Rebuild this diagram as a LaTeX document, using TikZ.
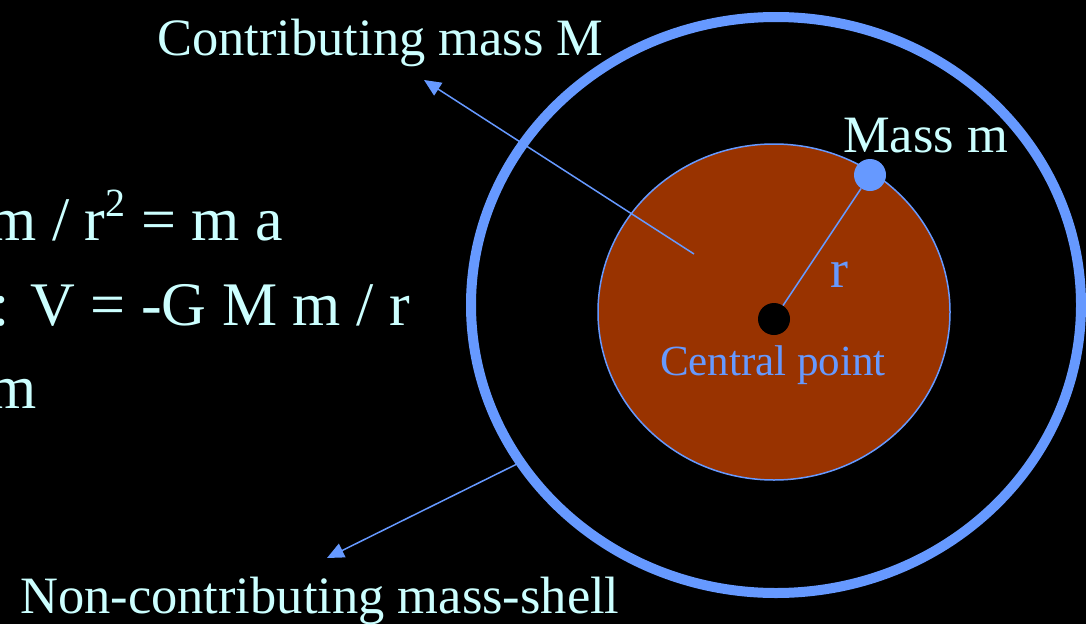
\documentclass[tikz,border=0pt]{standalone}
\usepackage{fontspec}
\setmainfont{Liberation Serif}
\usetikzlibrary{arrows.meta}
\definecolor{txt}{HTML}{CCFFFF}
\definecolor{blu}{HTML}{6699FF}
\definecolor{brn}{HTML}{993300}
\newcommand{\supsq}{\raisebox{24pt}{\fontsize{40}{40}\selectfont 2}}
\begin{document}
\begin{tikzpicture}[x=1pt,y=-1pt,
  lbl/.style={inner sep=0pt, text=txt, font=\fontsize{52.5}{60}\selectfont},
  big/.style={inner sep=0pt, text=txt, font=\fontsize{62}{70}\selectfont, anchor=base east},
  bluelbl/.style={inner sep=0pt, text=blu},
  ptr/.style={blu, line width=1.5pt, -{Triangle[length=17pt,width=15pt]}},
  dot/.style={circle, inner sep=0pt, minimum size=32pt}]
\fill[black] (0,0) rectangle (1086,624);
\useasboundingbox (0,0) rectangle (1086,624);
\clip (0,0) rectangle (1086,624);
% shells
\draw[blu, line width=10pt] (776,305) ellipse [x radius=305pt, y radius=288pt];
\draw[blu, line width=1.5pt, fill=brn] (774,312) ellipse [x radius=176pt, y radius=168pt];
% left equations
\node[big] (eq1) at (283,240) {m / r\supsq{} = m a};
\node[big] (eq2) at (410,325) {: V = -G M m / r};
\node[big] (eq3) at (37,408) {m};
% labels
\node[lbl, anchor=base west] (contrib) at (157,55) {Contributing mass M};
\node[lbl, anchor=base west] (massm) at (843,152) {Mass m};
\node[lbl, anchor=base west] (noncontrib) at (20,613) {Non-contributing mass-shell};
\node[bluelbl, font=\fontsize{43}{50}\selectfont, anchor=base] (central) at (773,375) {Central point};
\node[bluelbl, font=\fontsize{54}{60}\selectfont, anchor=base] (r) at (839,287) {r};
% dots
\node[dot, fill=black] (cp) at (774,319) {};
\node[dot, fill=blu] (mass) at (870,175) {};
\draw[blu, line width=1.5pt] (cp) -- (mass);
% pointers
\coordinate (a1s) at (694,254);
\coordinate (a1e) at (424,80);
\coordinate (a2s) at (517,464);
\coordinate (a2e) at (327,558);
\draw[ptr] (a1s) -- (a1e);
\draw[ptr] (a2s) -- (a2e);
\end{tikzpicture}
\end{document}
